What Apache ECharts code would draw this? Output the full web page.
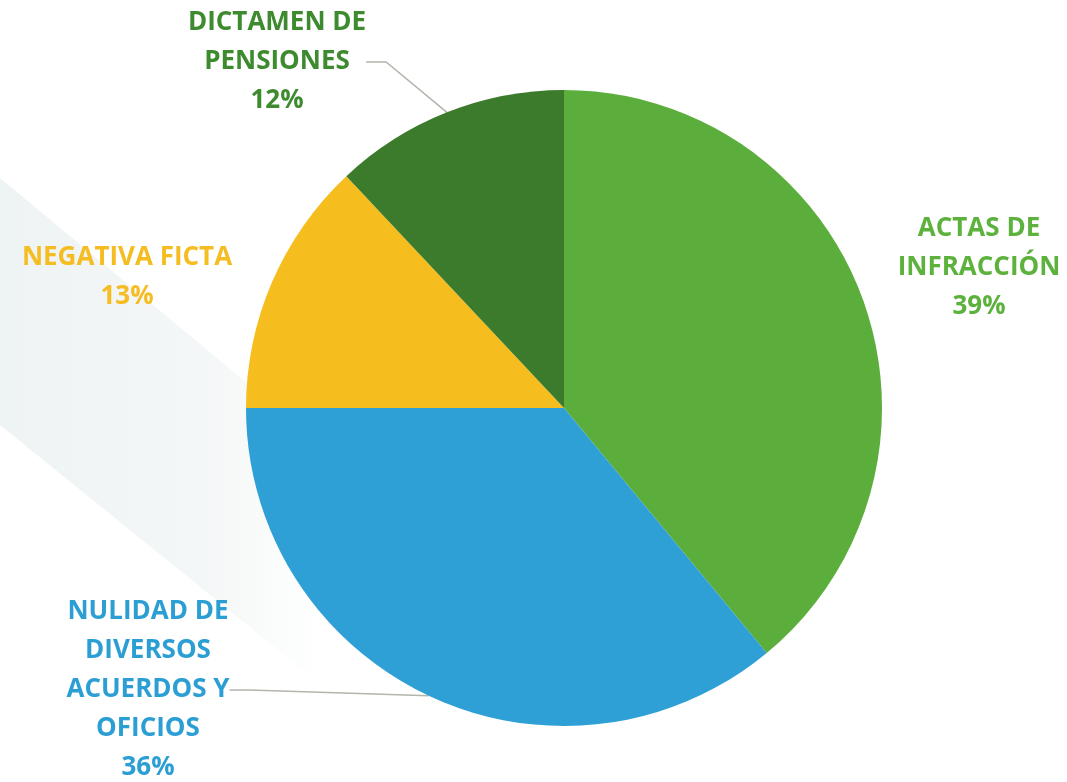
<!DOCTYPE html>
<html>
<head>
<meta charset="utf-8">
<script src="https://cdn.jsdelivr.net/npm/echarts@6/dist/echarts.min.js"></script>
<style>
  html, body { margin: 0; padding: 0; background: #ffffff; }
  #main { width: 1067px; height: 782px; }
</style>
</head>
<body>
<div id="main"></div>
<script>
// categories and shares (%)
var categorias = ['ACTAS DE\nINFRACCIÓN', 'NULIDAD DE\nDIVERSOS\nACUERDOS Y\nOFICIOS', 'NEGATIVA FICTA', 'DICTAMEN DE\nPENSIONES'];
var porcentajes = [39, 36, 13, 12];
var colores = ['#5cae3c', '#2fa0d6', '#f6bd1e', '#3c7b2c'];
var coloresTexto = ['#5cb23c', '#2b9ed3', '#f5bd22', '#3d8a2f'];
// where each label block sits (center of the block, px)
var posEtiquetas = [[979, 268], [148, 690], [127, 277], [277, 62]];
var conLinea = [false, true, false, true];

var chart = echarts.init(document.getElementById('main'));

var datos = [];
for (var i = 0; i < categorias.length; i++) {
  datos.push({
    name: categorias[i],
    value: porcentajes[i],
    itemStyle: { color: colores[i] },
    label: { color: coloresTexto[i] },
    labelLine: { show: conLinea[i] }
  });
}

var option = {
  backgroundColor: '#ffffff',
  animation: false,
  graphic: [{
    // faint diagonal band in the background, fading out to the right
    type: 'polygon',
    z: -10,
    shape: { points: [[0, 178], [340, 460], [340, 700], [0, 425]] },
    style: {
      fill: new echarts.graphic.LinearGradient(0, 0, 1, 0, [
        { offset: 0, color: '#eef3f3' },
        { offset: 0.6, color: '#f4f7f7' },
        { offset: 0.95, color: '#ffffff' }
      ])
    }
  }],
  series: [{
    type: 'pie',
    center: [564, 408],
    radius: 318,
    startAngle: 90,
    clockwise: true,
    data: datos,
    label: {
      show: true,
      formatter: function (p) { return p.name + '\n' + p.value + '%'; },
      fontFamily: 'Open Sans',
      fontWeight: 'bold',
      fontSize: 26,
      lineHeight: 39,
      align: 'center',
      overflow: 'none'
    },
    labelLine: {
      show: true,
      length: 20,
      length2: 20,
      smooth: false,
      lineStyle: { color: '#b4b4ac', width: 1.5 }
    },
    labelLayout: function (params) {
      var p = posEtiquetas[params.dataIndex];
      return { x: p[0], y: p[1], align: 'center', verticalAlign: 'middle' };
    },
    emphasis: { disabled: true }
  }]
};

chart.setOption(option);
window.addEventListener('resize', function () {
  chart.resize();
});
</script>
</body>
</html>
